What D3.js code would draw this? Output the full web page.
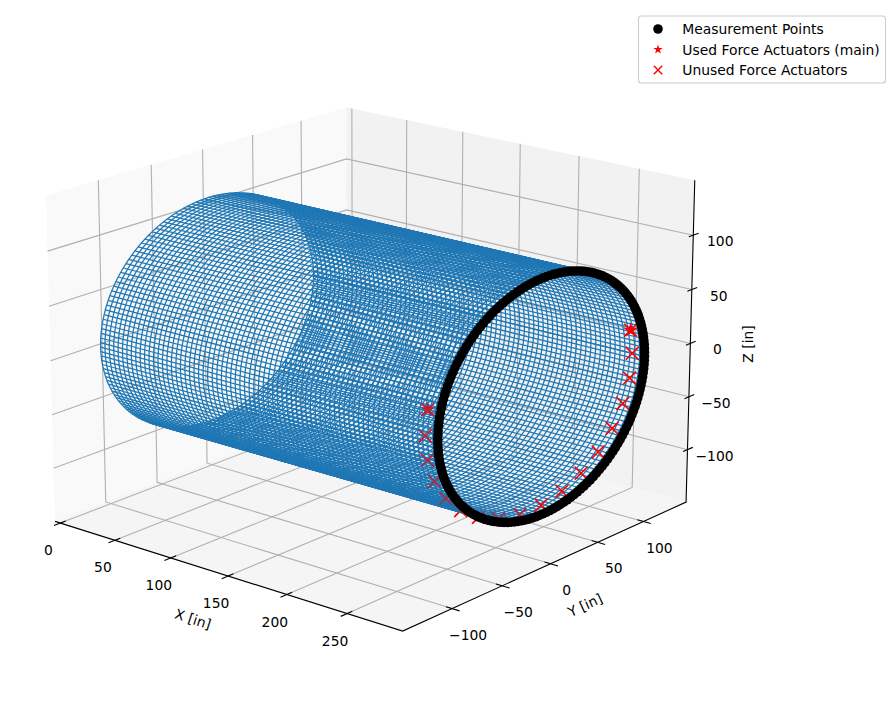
<!DOCTYPE html>
<html>
<head>
<meta charset="utf-8">
<script src="https://cdn.jsdelivr.net/npm/d3@7"></script>
<style>
body { margin: 0; background: #fff; }
text { font-family: "DejaVu Sans", sans-serif; font-size: 13.89px; fill: #000; }
</style>
</head>
<body>
<div id="plot"></div>
<script>
// axis ticks
var xTicks = [0, 50, 100, 150, 200, 250];
var yTicks = [-100, -50, 0, 50, 100];
var zTicks = [-100, -50, 0, 50, 100];

// stations along the barrel [in]
var meshX = [0, 4, 8, 12, 16, 20, 24, 28, 32, 36, 40, 44, 48, 52, 56, 60, 64, 68, 72, 76, 80, 84, 88, 92,
    96, 100, 104, 108, 112, 116, 120, 124, 128, 132, 136, 140, 144, 148, 152, 156, 160, 164, 168, 172, 176, 180,
    184, 188, 192, 196, 200, 204, 208, 212, 216, 220, 224, 228, 232, 236, 240, 244, 248, 252, 256, 260, 264, 268,
    272, 276, 280, 284, 288];
// stations around the barrel [deg]
var meshAngle = [0, 2.25, 4.5, 6.75, 9, 11.25, 13.5, 15.75, 18, 20.25, 22.5, 24.75, 27, 29.25, 31.5, 33.75, 36, 38.25, 40.5, 42.75,
    45, 47.25, 49.5, 51.75, 54, 56.25, 58.5, 60.75, 63, 65.25, 67.5, 69.75, 72, 74.25, 76.5, 78.75, 81, 83.25, 85.5, 87.75,
    90, 92.25, 94.5, 96.75, 99, 101.25, 103.5, 105.75, 108, 110.25, 112.5, 114.75, 117, 119.25, 121.5, 123.75, 126, 128.25, 130.5, 132.75,
    135, 137.25, 139.5, 141.75, 144, 146.25, 148.5, 150.75, 153, 155.25, 157.5, 159.75, 162, 164.25, 166.5, 168.75, 171, 173.25, 175.5, 177.75,
    180, 182.25, 184.5, 186.75, 189, 191.25, 193.5, 195.75, 198, 200.25, 202.5, 204.75, 207, 209.25, 211.5, 213.75, 216, 218.25, 220.5, 222.75,
    225, 227.25, 229.5, 231.75, 234, 236.25, 238.5, 240.75, 243, 245.25, 247.5, 249.75, 252, 254.25, 256.5, 258.75, 261, 263.25, 265.5, 267.75,
    270, 272.25, 274.5, 276.75, 279, 281.25, 283.5, 285.75, 288, 290.25, 292.5, 294.75, 297, 299.25, 301.5, 303.75, 306, 308.25, 310.5, 312.75,
    315, 317.25, 319.5, 321.75, 324, 326.25, 328.5, 330.75, 333, 335.25, 337.5, 339.75, 342, 344.25, 346.5, 348.75, 351, 353.25, 355.5, 357.75, 360];
// measurement points around the last station [deg]
var measureAngle = [0, 2, 4, 6, 8, 10, 12, 14, 16, 18, 20, 22, 24, 26, 28, 30, 32, 34, 36, 38, 40, 42, 44, 46, 48, 50,
    52, 54, 56, 58, 60, 62, 64, 66, 68, 70, 72, 74, 76, 78, 80, 82, 84, 86, 88, 90, 92, 94, 96, 98, 100, 102, 104,
    106, 108, 110, 112, 114, 116, 118, 120, 122, 124, 126, 128, 130, 132, 134, 136, 138, 140, 142, 144, 146, 148,
    150, 152, 154, 156, 158, 160, 162, 164, 166, 168, 170, 172, 174, 176, 178, 180, 182, 184, 186, 188, 190, 192,
    194, 196, 198, 200, 202, 204, 206, 208, 210, 212, 214, 216, 218, 220, 222, 224, 226, 228, 230, 232, 234, 236,
    238, 240, 242, 244, 246, 248, 250, 252, 254, 256, 258, 260, 262, 264, 266, 268, 270, 272, 274, 276, 278, 280,
    282, 284, 286, 288, 290, 292, 294, 296, 298, 300, 302, 304, 306, 308, 310, 312, 314, 316, 318, 320, 322, 324,
    326, 328, 330, 332, 334, 336, 338, 340, 342, 344, 346, 348, 350, 352, 354, 356, 358];

var radius = 106.5;
var measureX = 288;
var actuatorX = 278;

// actuators seen through the near wall (mesh drawn over them)
var unusedNear = [168, 180, 192, 204, 216, 228, 240, 252, 264];
// actuators on the far wall (drawn over the mesh)
var unusedFar = [276, 288, 300, 312, 324, 336, 348, 0, 12];
var usedNear = [168];
var usedFar = [12];

var legendLabels = ["Measurement Points", "Used Force Actuators (main)", "Unused Force Actuators"];

var width = 895, height = 725;
var svg = d3.select("#plot").append("svg").attr("width", width).attr("height", height);

// same camera as a matplotlib 3d axes, elev 18 azim -50, box 4:4:3
var elev = 18 * Math.PI / 180, azim = -50 * Math.PI / 180, dist = 10;
var x = d3.scaleLinear().domain([-5, 295]).range([-0.595, 0.595]);
var y = d3.scaleLinear().domain([-148, 148]).range([-0.595, 0.595]);
var z = d3.scaleLinear().domain([-150, 150]).range([-0.446, 0.446]);
var xMin = x.domain()[0], xMax = x.domain()[1];
var yMin = y.domain()[0], yMax = y.domain()[1];
var zMin = z.domain()[0], zMax = z.domain()[1];

var w = [Math.cos(elev) * Math.cos(azim), Math.cos(elev) * Math.sin(azim), Math.sin(elev)];
var u = [-Math.sin(azim), Math.cos(azim), 0];
var v = [-w[2] * u[1], w[2] * u[0], w[0] * u[1] - w[1] * u[0]];
var S = 3816, cx = 372.7, cy = 352;

function project(p) {
    var a = x(p[0]), b = y(p[1]), c = z(p[2]);
    var depth = dist - (a * w[0] + b * w[1] + c * w[2]);
    return [cx + S * (a * u[0] + b * u[1]) / depth,
        cy - S * (a * v[0] + b * v[1] + c * v[2]) / depth];
}

function ringPoint(xpos, deg) {
    var t = deg * Math.PI / 180;
    return [xpos, radius * Math.cos(t), radius * Math.sin(t)];
}

var line = d3.line().x(function (d) { return project(d)[0]; }).y(function (d) { return project(d)[1]; });

function path3d(g, pts, color, lw) {
    return g.append("path").attr("d", line(pts)).attr("fill", "none").attr("stroke", color).attr("stroke-width", lw);
}

// panes
var panes = svg.append("g");
[
    {fill: "#f9f9f9", pts: [[xMin, yMin, zMin], [xMin, yMax, zMin], [xMin, yMax, zMax], [xMin, yMin, zMax]]},
    {fill: "#f2f2f2", pts: [[xMin, yMax, zMin], [xMax, yMax, zMin], [xMax, yMax, zMax], [xMin, yMax, zMax]]},
    {fill: "#f5f5f5", pts: [[xMin, yMin, zMin], [xMax, yMin, zMin], [xMax, yMax, zMin], [xMin, yMax, zMin]]}
].forEach(function (p) {
    panes.append("path").attr("d", line(p.pts) + "Z").attr("fill", p.fill);
});

// grid
var grid = svg.append("g");
var gridColor = "#b0b0b0", gridWidth = 1.1;
xTicks.forEach(function (t) {
    path3d(grid, [[t, yMin, zMin], [t, yMax, zMin], [t, yMax, zMax]], gridColor, gridWidth);
});
yTicks.forEach(function (t) {
    path3d(grid, [[xMax, t, zMin], [xMin, t, zMin], [xMin, t, zMax]], gridColor, gridWidth);
});
zTicks.forEach(function (t) {
    path3d(grid, [[xMin, yMin, t], [xMin, yMax, t], [xMax, yMax, t]], gridColor, gridWidth);
});

// axis lines
var axes = svg.append("g");
path3d(axes, [[xMin, yMin, zMin], [xMax, yMin, zMin], [xMax, yMax, zMin], [xMax, yMax, zMax]], "#000", 1.1);

function tickLabel(pos, dx, dy, t) {
    axes.append("text").attr("x", pos[0] + dx).attr("y", pos[1] + dy + 5)
        .attr("text-anchor", "middle").text(d3.format("d")(t).replace("-", "\u2212"));
}
xTicks.forEach(function (t) {
    path3d(axes, [[t, yMin + 5, zMin], [t, yMin - 6, zMin]], "#000", 1.1);
    tickLabel(project([t, yMin, zMin]), -12, 27, t);
});
yTicks.forEach(function (t) {
    path3d(axes, [[xMax - 5, t, zMin], [xMax + 6, t, zMin]], "#000", 1.1);
    tickLabel(project([xMax, t, zMin]), 16, 26, t);
});
zTicks.forEach(function (t) {
    path3d(axes, [[xMax, yMax - 5, t], [xMax, yMax + 6, t]], "#000", 1.1);
    tickLabel(project([xMax, yMax, t]), 27, 6, t);
});
axes.append("text").attr("transform", "translate(193,619) rotate(18)").attr("text-anchor", "middle").attr("dy", 5).text("X [in]");
axes.append("text").attr("transform", "translate(585,605) rotate(-25)").attr("text-anchor", "middle").attr("dy", 5).text("Y [in]");
axes.append("text").attr("transform", "translate(748,344) rotate(-90)").attr("text-anchor", "middle").attr("dy", 5).text("Z [in]");

var star = d3.symbol().type(d3.symbolStar);
var cross = d3.symbol().type(d3.symbolX);

function drawMarks(g, starAngles, crossAngles) {
    starAngles.forEach(function (a) {
        var p = project(ringPoint(actuatorX, a));
        g.append("path").attr("transform", "translate(" + p + ")").attr("d", star.size(70)()).attr("fill", "red");
    });
    crossAngles.forEach(function (a) {
        var p = project(ringPoint(actuatorX, a));
        g.append("path").attr("transform", "translate(" + p + ")").attr("d", cross.size(110)())
            .attr("fill", "none").attr("stroke", "red").attr("stroke-width", 1.6);
    });
}

drawMarks(svg.append("g"), usedNear, unusedNear);

// wireframe
var mesh = svg.append("g");
meshX.forEach(function (px) {
    path3d(mesh, meshAngle.map(function (a) { return ringPoint(px, a); }), "#1f77b4", 1.25);
});
meshAngle.forEach(function (a) {
    path3d(mesh, [ringPoint(meshX[0], a), ringPoint(meshX[meshX.length - 1], a)], "#1f77b4", 1.25);
});

// near marks still show through the wires
drawMarks(svg.append("g").attr("opacity", 0.6), usedNear, unusedNear);
drawMarks(svg.append("g"), usedFar, unusedFar);

// measurement ring
svg.append("g").selectAll("circle").data(measureAngle).join("circle")
    .attr("cx", function (a) { return project(ringPoint(measureX, a))[0]; })
    .attr("cy", function (a) { return project(ringPoint(measureX, a))[1]; })
    .attr("r", 4.8).attr("fill", "#000");

// legend
var legend = svg.append("g");
legend.append("rect").attr("x", 638.5).attr("y", 16).attr("width", 247).attr("height", 67).attr("rx", 3)
    .attr("fill", "#fff").attr("stroke", "#ccc").attr("stroke-width", 1.1);
var rows = [29, 49.5, 70];
legendLabels.forEach(function (l, i) {
    legend.append("text").attr("x", 682.3).attr("y", rows[i] + 5).text(l);
});
legend.append("circle").attr("cx", 658).attr("cy", rows[0]).attr("r", 4.8).attr("fill", "#000");
legend.append("path").attr("transform", "translate(658," + rows[1] + ")").attr("d", star.size(28)()).attr("fill", "red");
legend.append("path").attr("transform", "translate(658," + rows[2] + ")").attr("d", cross.size(48)())
    .attr("fill", "none").attr("stroke", "red").attr("stroke-width", 1.4);
</script>
</body>
</html>
